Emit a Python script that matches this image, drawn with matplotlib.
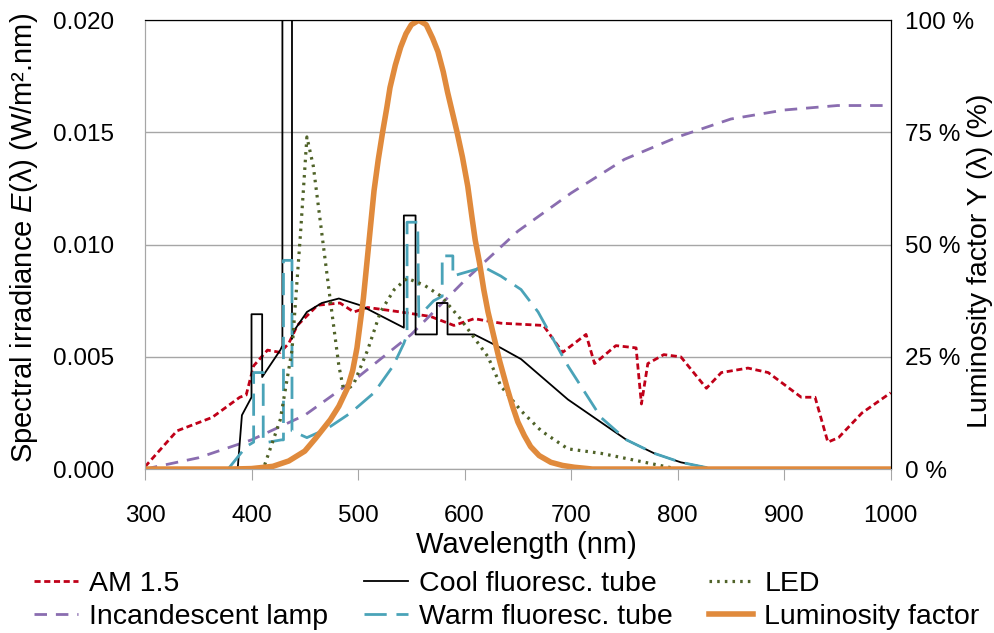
import matplotlib

matplotlib.use("Agg")
import matplotlib.pyplot as plt

plt.rcParams.update({
    "font.family": ["Liberation Sans", "DejaVu Sans"],
    "font.size": 17,
    "mathtext.fontset": "custom",
    "mathtext.it": "Liberation Sans:italic",
    "mathtext.rm": "Liberation Sans",
})

RED = "#C00018"
PURPLE = "#8A6DB0"
TEAL = "#4AA3B8"
OLIVE = "#4F6228"
ORANGE = "#E08A3C"
GRID = "#A6A6A6"

# --- data (wavelength in nm, irradiance in W/m2.nm) ---
am15_wl = [300, 330, 363, 389, 395, 402, 415, 427, 435, 443, 462, 483, 496, 509, 540, 568, 590,
           609, 634, 674, 692, 714, 722, 742, 761, 766, 772, 787, 803, 827, 841, 866, 885, 916,
           929, 941, 951, 973, 1000]
am15_e = [0.0001, 0.0017, 0.0023, 0.0032, 0.0033, 0.0046, 0.0053, 0.0052, 0.0056, 0.0064, 0.0073,
          0.0074, 0.0070, 0.0072, 0.0070, 0.0068, 0.0064, 0.0067, 0.0065, 0.0064, 0.0052, 0.0060,
          0.0047, 0.0055, 0.0054, 0.0029, 0.0047, 0.0051, 0.0050, 0.0036, 0.0043, 0.0045, 0.0043,
          0.0032, 0.0032, 0.0012, 0.0014, 0.0025, 0.0034]

incand_wl = [300, 350, 400, 450, 500, 550, 600, 650, 700, 750, 800, 850, 900, 950, 1000]
incand_e = [0.0, 0.0005, 0.0013, 0.0024, 0.0041, 0.0060, 0.0084, 0.0106, 0.0123, 0.0138, 0.0148,
            0.0156, 0.0160, 0.0162, 0.0162]

cool_wl = [387, 391, 400, 400, 410, 410, 427, 429, 429, 438, 438, 439, 452, 466, 482, 502, 543, 543,
           554, 554, 574, 574, 584, 584, 609, 634, 653, 697, 752, 778, 803, 834, 1000]
cool_e = [0.0, 0.0024, 0.0032, 0.0069, 0.0069, 0.0041, 0.0053, 0.0055, 0.03, 0.03, 0.0058, 0.0061,
          0.0070, 0.0074, 0.0076, 0.0073, 0.0063, 0.0113, 0.0113, 0.0060, 0.0060, 0.0074, 0.0074,
          0.0060, 0.0060, 0.0054, 0.0049, 0.0031, 0.0013, 0.0007, 0.0003, 0.0, 0.0]

warm_wl = [378, 395, 402, 402, 411, 411, 416, 428, 430, 430, 438, 438, 452, 471, 493, 515, 533, 543,
           546, 546, 556, 557, 571, 579, 579, 589, 589, 596, 618, 634, 653, 669, 697, 728, 752, 778,
           803, 834, 1000]
warm_e = [0.0, 0.0010, 0.0012, 0.0043, 0.0043, 0.0012, 0.0012, 0.0013, 0.0013, 0.0093, 0.0093,
          0.0017, 0.0014, 0.0018, 0.0025, 0.0034, 0.0046, 0.0056, 0.0060, 0.0110, 0.0110, 0.0068,
          0.0075, 0.0077, 0.0095, 0.0095, 0.0086, 0.0087, 0.0090, 0.0086, 0.0080, 0.0070, 0.0046,
          0.0023, 0.0013, 0.0007, 0.0003, 0.0, 0.0]

led_wl = [300, 411, 427, 438, 446, 452, 458, 466, 474, 482, 487, 496, 509, 521, 534, 546, 562, 578,
          596, 622, 634, 653, 672, 697, 728, 759, 800, 1000]
led_e = [0.0, 0.0, 0.0022, 0.0053, 0.0105, 0.0148, 0.0135, 0.0105, 0.0075, 0.0046, 0.0034, 0.0038,
         0.0053, 0.0070, 0.0080, 0.0085, 0.0082, 0.0077, 0.0067, 0.0050, 0.0037, 0.0026, 0.0017,
         0.0009, 0.0007, 0.0004, 0.0, 0.0]

# luminosity factor in %
lum_wl = [300, 380, 400, 420, 435, 450, 460, 474, 482, 490, 495, 499, 505, 510, 515, 519, 523, 527,
          530, 535, 540, 545, 550, 557, 564, 570, 575, 580, 584, 589, 593, 598, 603, 607, 610, 614,
          618, 622, 626, 630, 633, 640, 645, 650, 656, 662, 670, 681, 692, 703, 720, 1000]
lum_y = [0.0, 0.0, 0.1, 0.6, 1.8, 4.0, 6.8, 11.0, 14.0, 18.0, 22.0, 27.0, 38.0, 50.0, 62.0, 69.0,
         75.0, 80.5, 85.0, 90.0, 94.0, 97.0, 99.0, 100.0, 99.0, 96.0, 93.0, 88.5, 84.0, 79.0, 75.0,
         69.5, 63.0, 56.0, 51.0, 46.0, 40.0, 35.0, 31.0, 27.0, 24.0, 18.0, 14.0, 10.5, 7.5, 5.0, 3.0,
         1.5, 0.8, 0.4, 0.0, 0.0]

fig = plt.figure(figsize=(9.95, 6.33), dpi=100)
ax = fig.add_axes([0.1457, 0.259, 0.7495, 0.709])
ax2 = ax.twinx()

l_am, = ax.plot(am15_wl, am15_e, color=RED, lw=2, ls=(0, (2.2, 1.3)), label="AM 1.5")
l_inc, = ax.plot(incand_wl, incand_e, color=PURPLE, lw=2, ls=(0, (4.5, 3.2)), label="Incandescent lamp")
l_cool, = ax.plot(cool_wl, cool_e, color="black", lw=1.3, label="Cool fluoresc. tube")
l_warm, = ax.plot(warm_wl, warm_e, color=TEAL, lw=2, ls=(0, (8, 3.5)), label="Warm fluoresc. tube")
l_led, = ax.plot(led_wl, led_e, color=OLIVE, lw=2.3, ls=(0, (0.8, 1.6)), label="LED")
l_lum, = ax2.plot(lum_wl, lum_y, color=ORANGE, lw=4, solid_joinstyle="round", label="Luminosity factor")

ax.set_xlim(300, 1000)
ax.set_ylim(0, 0.020)
ax2.set_ylim(0, 100)
ax.set_xticks(range(300, 1001, 100))
ax.set_yticks([0, 0.005, 0.010, 0.015, 0.020])
ax.set_yticklabels(["0.000", "0.005", "0.010", "0.015", "0.020"])
ax2.set_yticks([0, 25, 50, 75, 100])
ax2.set_yticklabels(["0 %", "25 %", "50 %", "75 %", "100 %"])

ax.grid(axis="y", color=GRID, lw=1)
ax.set_axisbelow(True)
ax.tick_params(axis="x", direction="out", length=8, color=GRID, pad=18, labelsize=17.5)
ax.tick_params(axis="y", length=0, pad=22, labelsize=17.5)
ax2.tick_params(axis="y", length=0, pad=10, labelsize=17.5)

for a in (ax, ax2):
    a.spines["left"].set_color(GRID)
    a.spines["bottom"].set_color(GRID)
    a.spines["top"].set_color("black")
    a.spines["right"].set_color("black")

# axis titles placed where the reference has them
fig.text(526 / 995, 1 - 545 / 633, "Wavelength (nm)", fontsize=21, ha="center", va="center")
fig.text(24 / 995, 1 - 238 / 633, r"Spectral irradiance $E$(λ) (W/m².nm)", fontsize=21,
         rotation=90, ha="center", va="center")
fig.text(980 / 995, 1 - 261 / 633, "Luminosity factor Y (λ) (%)", fontsize=20.5,
         rotation=90, ha="center", va="center")

handles = [l_am, l_inc, l_cool, l_warm, l_led, l_lum]
fig.legend(handles, [h.get_label() for h in handles], ncol=3, loc="lower left",
           bbox_to_anchor=(0.008, -0.036), frameon=False, handlelength=1.55, handletextpad=0.4,
           columnspacing=1.25, labelspacing=0.25, fontsize=20.5)

fig.savefig("out.png", dpi=100)
